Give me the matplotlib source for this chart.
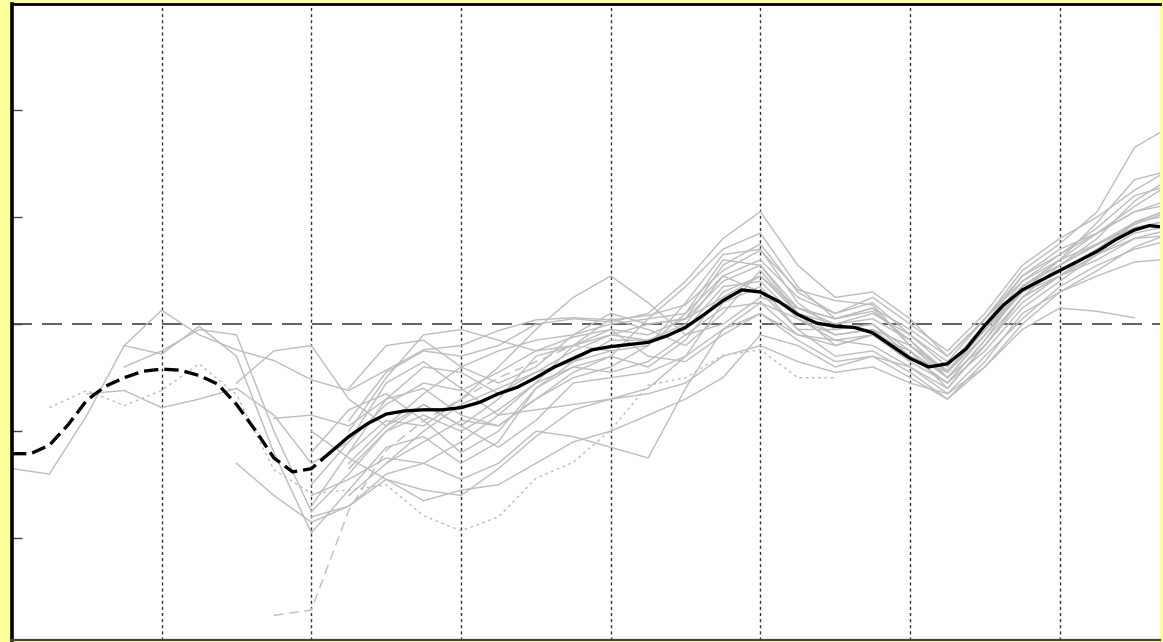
import numpy as np
import matplotlib
matplotlib.use("Agg")
import matplotlib.pyplot as plt

# -- data -------------------------------------------------------------
# grey runs share one x grid (grid spacing = 1 unit between the dotted lines)
grid_x = [0.0, 0.25, 0.5, 0.75, 1.0, 1.25, 1.5, 1.75, 2.0, 2.25, 2.5, 2.75,
          3.0, 3.25, 3.5, 3.75, 4.0, 4.25, 4.5, 4.75, 5.0, 5.25, 5.5, 5.75,
          6.0, 6.25, 6.5, 6.75, 7.0, 7.25, 7.5, 7.67]

N = None
runs = [
    [-1.35, -1.40, -0.85, -0.20, 0.13, -0.10, -0.24, -0.34, -0.52, -0.62, -0.43, -0.24, -0.20, -0.06, 0.04, 0.06,
     0.04, 0.08, 0.18, 0.50, 0.69, 0.32, 0.22, 0.18, -0.20, -0.43, -0.06, 0.36, 0.55, 0.74, 0.93, 1.02],
    [N, -0.78, -0.62, -0.76, -0.62, -0.37, -0.66, -1.36, -1.58, -1.55, -1.50, -1.79, -1.93, -1.80, -1.44, -1.29,
     -0.99, -0.57, -0.50, -0.29, -0.24, -0.50, -0.50, N, N, N, N, N, N, N, N, N],
    [N, N, -0.65, -0.62, -0.78, -0.70, -0.60, -0.85, -1.30, -1.10, -0.75, -0.55, -0.62, -0.45, -0.25, -0.12,
     -0.05, -0.10, 0.05, 0.40, 0.55, 0.15, 0.05, 0.12, -0.15, -0.50, -0.10, 0.35, 0.60, 0.85, 1.10, 1.25],
    [N, N, N, -0.40, -0.25, -0.05, -0.10, -1.00, -1.75, -1.40, -1.00, -0.75, -0.95, -0.70, -0.30, -0.20,
     -0.05, -0.30, -0.35, -0.10, 0.10, -0.10, -0.15, -0.10, -0.35, -0.55, -0.25, 0.15, 0.40, 0.65, 0.80, 0.82],
    [N, N, N, -0.20, -0.28, -0.02, -0.30, -1.20, -1.95, -1.55, -1.15, -1.05, -1.30, -1.10, -0.60, -0.40,
     -0.30, -0.40, -0.15, 0.30, 0.45, 0.10, -0.10, -0.05, -0.30, -0.45, -0.05, 0.30, 0.50, 0.70, 0.95, 1.04],
    [N, N, N, N, N, N, -1.30, -1.60, -1.85, -1.70, -1.45, -1.55, -1.60, -1.35, -1.05, -0.80,
     -0.70, -0.65, -0.55, -0.30, -0.20, -0.35, -0.45, -0.40, -0.55, -0.65, -0.30, 0.05, 0.35, 0.55, 0.70, 0.76],
    [N, N, N, N, N, N, -0.55, -0.25, -0.20, -0.70, -0.95, -0.65, -0.40, -0.25, -0.15, -0.10,
     0.00, 0.05, 0.10, 0.45, 0.60, 0.25, 0.10, 0.20, -0.10, -0.40, 0.00, 0.45, 0.65, 0.85, 1.05, 1.13],
    [N, N, N, N, N, N, N, -0.88, -0.85, -0.95, -0.70, -0.40, -0.45, -0.65, -0.45, -0.25,
     -0.10, -0.15, -0.05, 0.35, 0.40, 0.05, -0.15, -0.20, -0.40, -0.60, -0.20, 0.20, 0.45, 0.70, 0.90, 0.95],
    [N, N, N, N, N, N, N, -2.72, -2.67, -1.74, -1.18, -0.90, -0.70, -0.50, -0.35, -0.20,
     -0.25, N, N, N, N, N, N, N, N, N, N, N, N, N, N, N],
    [N, N, N, N, N, N, N, N, -1.50, -1.10, -0.55, -0.35, -0.60, -0.85, -0.55, -0.20,
     0.05, -0.05, -0.20, 0.10, 0.50, 0.10, -0.20, -0.10, -0.25, -0.50, -0.20, 0.25, 0.55, 0.80, 1.15, 1.30],
    [N, N, N, N, N, N, N, N, -1.70, -1.20, -0.70, -0.60, -0.85, -0.95, -0.70, -0.45,
     -0.30, 0.05, 0.35, 0.70, 0.85, 0.35, 0.05, 0.15, -0.20, -0.50, -0.10, 0.30, 0.60, 0.95, 1.35, 1.41],
    [N, N, N, N, N, N, N, N, -1.60, -1.45, -1.25, -1.30, -1.10, -0.85, -0.80, -0.75,
     -0.70, -0.60, -0.30, 0.20, 0.35, -0.05, -0.30, -0.25, -0.45, -0.70, -0.35, 0.10, 0.30, 0.45, 0.58, 0.60],
    [N, N, N, N, N, N, N, N, -1.80, -1.70, -1.40, -1.30, -1.45, -1.30, -1.00, -1.05,
     -1.15, -1.25, -0.60, -0.05, 0.20, 0.05, -0.10, -0.05, -0.20, -0.45, -0.10, 0.30, 0.45, 0.60, 0.80, 0.86],
    [N, N, N, N, N, N, N, N, N, -0.90, -0.45, -0.25, -0.30, -0.20, 0.00, 0.05,
     0.02, 0.10, 0.40, 0.80, 1.05, 0.55, 0.25, 0.30, 0.05, -0.30, 0.05, 0.50, 0.75, 1.05, 1.65, 1.79],
    [N, N, N, N, N, N, N, N, N, -1.20, -0.90, -0.95, -0.70, -0.40, -0.05, 0.25,
     0.45, 0.20, -0.10, 0.00, 0.25, 0.15, 0.00, 0.05, -0.15, -0.45, -0.05, 0.40, 0.65, 0.90, 1.20, 1.27],
    [N, N, N, N, N, N, N, N, -1.00, -1.25, -1.45, -1.65, -1.55, -1.50, -1.30, -1.10,
     -1.00, -0.85, -0.70, -0.50, -0.10, -0.20, -0.40, -0.30, -0.40, -0.65, -0.40, 0.00, 0.30, 0.50, 0.72, 0.81],
    [N, N, N, N, N, N, N, N, N, -1.30, -0.95, -0.75, -0.95, -1.15, -0.90, -0.55,
     -0.50, -0.45, -0.30, -0.05, 0.10, -0.15, -0.35, -0.30, -0.50, -0.70, -0.40, -0.05, 0.15, 0.12, 0.06, N],
    [N, N, N, N, N, N, N, N, N, -0.60, -0.20, -0.15, -0.40, -0.55, -0.40, -0.10,
     0.10, 0.00, 0.05, 0.55, 0.75, 0.30, 0.10, 0.25, 0.00, -0.25, 0.10, 0.55, 0.80, 1.00, 1.25, 1.39],
    [N, N, N, N, N, N, N, N, N, -1.35, -1.00, -0.85, -1.00, -0.80, -0.55, -0.40,
     -0.45, -0.35, -0.10, 0.15, 0.20, -0.10, -0.20, -0.10, -0.30, -0.55, -0.15, 0.35, 0.55, 0.75, 0.95, 1.00],
    [N, N, N, N, N, N, N, N, N, N, -1.30, -1.10, -0.90, -0.95, -0.70, -0.50,
     -0.40, -0.20, 0.10, 0.60, 0.55, 0.10, 0.00, 0.10, -0.10, -0.35, 0.05, 0.45, 0.70, 0.85, 1.05, 1.10],
    [N, N, N, N, N, N, N, N, -1.20, -0.80, -0.65, -0.90, -1.20, -1.00, -0.60, -0.35,
     -0.15, -0.15, 0.00, 0.45, 0.30, -0.05, -0.05, 0.00, -0.30, -0.55, -0.15, 0.25, 0.45, 0.65, 0.85, 0.90],
    [N, N, N, N, N, N, N, N, N, -1.00, -0.50, -0.10, -0.05, -0.15, -0.25, -0.20,
     -0.10, 0.00, 0.05, 0.25, 0.45, 0.15, 0.05, 0.15, -0.05, -0.30, 0.05, 0.40, 0.60, 0.75, 0.90, 0.95],
    [N, N, N, N, N, N, N, N, N, -1.60, -1.30, -1.00, -0.75, -0.60, -0.45, -0.35,
     -0.25, -0.20, 0.20, 0.65, 0.70, 0.20, -0.05, 0.00, -0.25, -0.60, -0.20, 0.25, 0.45, 0.65, 0.95, 1.04],
]
# line style per run: "-" solid, ":" dotted, "--" long dash
run_styles = ["-", ":", "-", "-", "-", "-", "-", "-", "--", "-", "-", "-",
              "-", "-", "-", "-", "-", "-", "-", "-", "-", "-", "-"]

mean_x = [0.0, 0.125, 0.25, 0.375, 0.5, 0.625, 0.75, 0.875, 1.0, 1.125, 1.25, 1.375,
          1.5, 1.625, 1.75, 1.875, 2.0, 2.125, 2.25, 2.375, 2.5, 2.625, 2.75, 2.875,
          3.0, 3.125, 3.25, 3.375, 3.5, 3.625, 3.75, 3.875, 4.0, 4.125, 4.25, 4.375,
          4.5, 4.625, 4.75, 4.875, 5.0, 5.125, 5.25, 5.375, 5.5, 5.625, 5.75, 5.875,
          6.0, 6.125, 6.25, 6.375, 6.5, 6.625, 6.75, 6.875, 7.0, 7.125, 7.25, 7.375,
          7.5, 7.6, 7.67]
mean_y = [-1.21, -1.21, -1.13, -0.94, -0.71, -0.58, -0.50, -0.44, -0.42, -0.43, -0.48, -0.56,
          -0.75, -0.99, -1.25, -1.38, -1.35, -1.20, -1.05, -0.93, -0.84, -0.81, -0.80, -0.80,
          -0.78, -0.73, -0.65, -0.59, -0.50, -0.40, -0.32, -0.24, -0.21, -0.19, -0.17, -0.11,
          -0.03, 0.09, 0.22, 0.32, 0.30, 0.21, 0.09, 0.01, -0.02, -0.03, -0.08, -0.20,
          -0.32, -0.40, -0.37, -0.23, -0.01, 0.18, 0.32, 0.41, 0.50, 0.59, 0.68, 0.79,
          0.88, 0.92, 0.91]
mean_split = 2.125   # mean drawn dashed before this x, solid after

grid_lines = [1, 2, 3, 4, 5, 6, 7]
y_ticks = [-2, -1, 0, 1, 2]
# ---------------------------------------------------------------------

fig = plt.figure(figsize=(11.63, 6.42), dpi=100, facecolor="#FFFF99")
ax = fig.add_axes([12 / 1163, 2 / 642, 1148 / 1163, 636 / 642])
ax.set_facecolor("white")

for xv in grid_lines:
    ax.axvline(xv, color="#333333", lw=1.0, dashes=(2.2, 2.2), zorder=1)
ax.axhline(0, color="#444444", lw=1.2, dashes=(12, 6), zorder=1)

gx = np.array(grid_x)
for ys, st in zip(runs, run_styles):
    yv = np.array(ys, dtype=float)
    kw = dict(color="#BDBDBD", lw=1.0, zorder=2)
    if st == ":":
        kw["dashes"] = (2, 2.5)
    elif st == "--":
        kw["dashes"] = (7, 4)
    ax.plot(gx, yv, **kw)

mx = np.array(mean_x)
my = np.array(mean_y)
left = mx <= mean_split
right = mx >= mean_split
ax.plot(mx[left], my[left], color="black", lw=2.4, dashes=(4.3, 1.8), zorder=3)
ax.plot(mx[right], my[right], color="black", lw=2.4, zorder=3)

ax.set_xlim(0, 7.67)
ax.set_ylim(-2.95, 2.99)
ax.set_xticks([])
ax.set_yticks(y_ticks)
ax.set_yticklabels([])
ax.tick_params(axis="y", direction="in", length=7, width=1, color="#444444")

ax.spines["left"].set_linewidth(2.6)
ax.spines["left"].set_color("black")
ax.spines["top"].set_linewidth(2.0)
ax.spines["top"].set_color("black")
ax.spines["bottom"].set_linewidth(1.6)
ax.spines["bottom"].set_color("#444444")
ax.spines["right"].set_visible(False)

fig.savefig("out.png", dpi=100, facecolor=fig.get_facecolor())
